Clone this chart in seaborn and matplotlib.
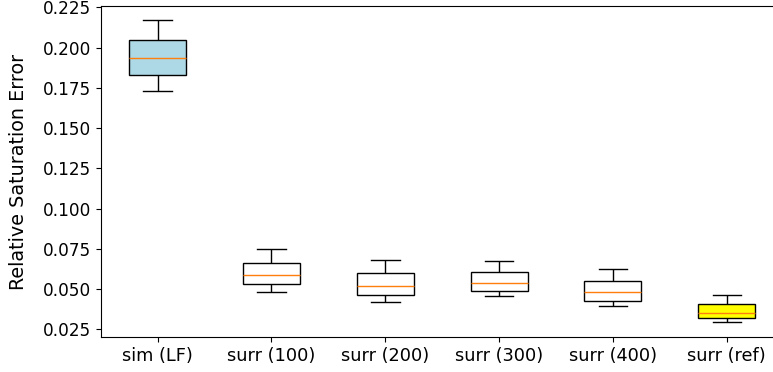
import pandas as pd
import numpy as np
import matplotlib
matplotlib.use("Agg")
import matplotlib.pyplot as plt
import seaborn as sns

# five-number summaries (low whisker, q1, median, q3, high whisker)
labels = ["sim (LF)", "surr (100)", "surr (200)", "surr (300)", "surr (400)", "surr (ref)"]
sim_lf = [0.1730, 0.1830, 0.1933, 0.2047, 0.2171]
surr_100 = [0.0484, 0.0531, 0.0589, 0.0664, 0.0749]
surr_200 = [0.0418, 0.0463, 0.0521, 0.0598, 0.0682]
surr_300 = [0.0455, 0.0490, 0.0540, 0.0606, 0.0672]
surr_400 = [0.0397, 0.0426, 0.0483, 0.0550, 0.0625]
surr_ref = [0.0294, 0.0322, 0.0353, 0.0407, 0.0465]
box_colors = ["lightblue", "white", "white", "white", "white", "yellow"]

series = [sim_lf, surr_100, surr_200, surr_300, surr_400, surr_ref]
rows = []
for lab, vals in zip(labels, series):
    for v in vals:
        rows.append({"model": lab, "error": v})
data = pd.DataFrame(rows)

fig = plt.figure(figsize=(7.73, 3.72), dpi=100)
ax = fig.add_axes([100.7 / 773, (372 - 337.3) / 372, 683 / 773, 331.3 / 372])

sns.boxplot(data=data, x="model", y="error", hue="model", order=labels,
            palette=dict(zip(labels, box_colors)), saturation=1, width=0.5,
            linecolor="black", linewidth=1.0, whis=1.5, legend=False,
            medianprops={"color": "#ff7f0e", "linewidth": 1.0}, ax=ax)

ax.set_xlabel("")
ax.set_ylabel("Relative Saturation Error", fontsize=13.8)
ax.yaxis.set_label_coords(-0.1066, 0.5)
ax.tick_params(axis="x", labelsize=12.8)
ax.tick_params(axis="y", labelsize=12.2)
ax.set_yticks(np.arange(0.025, 0.2251, 0.025))
ax.set_ylim(0.0200, 0.2258)

fig.savefig("out.png", dpi=100)
